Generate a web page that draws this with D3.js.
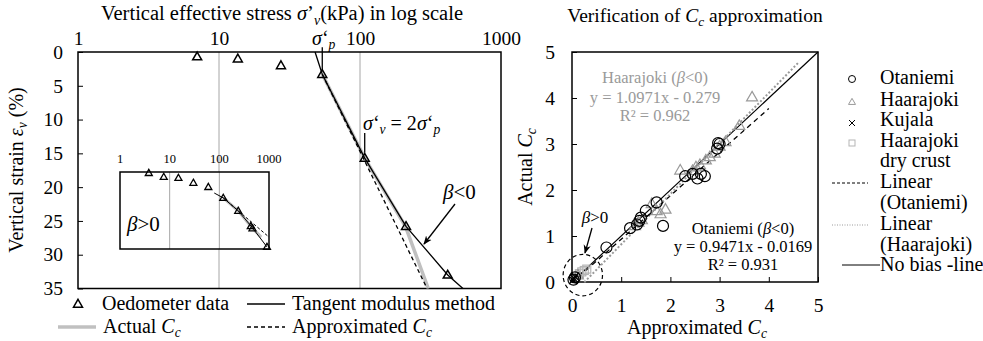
<!DOCTYPE html>
<html><head><meta charset="utf-8">
<script src="https://cdn.jsdelivr.net/npm/d3@7"></script>
<style>
html,body{margin:0;padding:0;background:#fff;}
svg text{font-family:"Liberation Serif","Times New Roman",serif;}
</style></head>
<body><svg id="c" width="983" height="341"></svg>
<script>
// ---------- data: left chart (oedometer curve) ----------
const stressTicks = [1, 10, 100, 1000];
const strainTicks = [0, 5, 10, 15, 20, 25, 30, 35];
const oedStress = [7.0, 13.6, 27.5, 54, 108, 212, 419];
const oedStrain = [0.7, 1.0, 2.0, 3.3, 15.7, 25.8, 33.0];
const tangentStress = [48, 54, 108, 212, 419, 537];
const tangentStrain = [0, 3.3, 15.7, 25.8, 33.0, 35];
const actualStress = [54, 108, 210, 305];
const actualStrain = [3.3, 15.7, 25.8, 35];
const approxStress = [54, 299];
const approxStrain = [3.3, 35];
const sigmaP = 54;
// inset (beta > 0)
const insetStress = [3.8, 7.6, 15, 30, 60, 120, 240, 430, 465, 910];
const insetStrain = [0.3, 1.4, 1.7, 3.1, 4.3, 7.4, 11.1, 15.5, 16.1, 21.4];
const insetTanStress = [79, 120, 240, 450, 910];
const insetTanStrain = [6.0, 7.4, 11.1, 15.7, 21.4];
const insetActStress = [120, 240, 460, 700];
const insetActStrain = [7.4, 11.1, 16.0, 18.6];
const insetAppStress = [120, 1000];
const insetAppStrain = [7.4, 18.6];

// ---------- data: right chart (verification) ----------
const ccTicks = [0, 1, 2, 3, 4, 5];
const otaX = [0.03, 0.06, 0.7, 1.18, 1.32, 1.37, 1.4, 1.5, 1.72, 1.85, 2.3, 2.45, 2.55, 2.62, 2.7, 2.95, 3.0, 2.97];
const otaY = [0.05, 0.1, 0.75, 1.17, 1.25, 1.33, 1.4, 1.55, 1.73, 1.22, 2.3, 2.35, 2.25, 2.35, 2.3, 2.9, 3.0, 3.02];
const haaX = [3.66, 3.4, 3.12, 3.0, 2.9, 2.8, 2.72, 2.6, 2.52, 2.45, 2.2, 1.9, 1.8, 1.72, 1.62, 1.42, 1.35, 1.28, 0.12];
const haaY = [4.02, 3.4, 3.05, 2.95, 2.8, 2.72, 2.65, 2.55, 2.5, 2.42, 2.43, 1.58, 1.48, 1.55, 1.7, 1.35, 1.3, 1.22, 0.15];
const kujX = [0.02, 0.04, 0.06];
const kujY = [0.04, 0.08, 0.12];
const dryX = [0.15, 0.2, 0.25, 0.3];
const dryY = [0.18, 0.22, 0.25, 0.28];
const otaFit = {a: 0.9471, b: -0.0169, x0: 0, x1: 4.0};
const haaFit = {a: 1.0971, b: -0.279, x0: 0.25, x1: 4.6};

const svg = d3.select("#c");
const GRAY = "#a6a6a6";

function rich(sel, parts, size) {
  parts.forEach(p => {
    const ts = sel.append("tspan").text(p.t);
    if (p.i) ts.attr("font-style", "italic");
    if (p.sub) ts.attr("baseline-shift", -size * 0.22).attr("font-size", size * 0.68);
  });
  return sel;
}
function triPath(cx, cy, s) {
  const h = s * 0.87;
  return `M${cx},${cy - h * 0.6}L${cx + s / 2},${cy + h * 0.4}L${cx - s / 2},${cy + h * 0.4}Z`;
}

// ================= LEFT CHART =================
const xL = d3.scaleLog().domain([1, 1000]).range([78, 501]);
const yL = d3.scaleLinear().domain([0, 35]).range([52, 288.5]);
const gL = svg.append("g");

gL.selectAll(".grid").data([10, 100]).join("line")
  .attr("x1", d => xL(d)).attr("x2", d => xL(d)).attr("y1", yL(0)).attr("y2", yL(35))
  .attr("stroke", GRAY).attr("stroke-width", 1);

const axL = gL.append("g").attr("transform", `translate(${xL(1)},0)`)
  .call(d3.axisLeft(yL).tickValues(strainTicks).tickSize(-5).tickSizeOuter(0).tickPadding(15));
const axT = gL.append("g").attr("transform", `translate(0,${yL(0)})`)
  .call(d3.axisTop(xL).tickValues(stressTicks).tickFormat(d3.format("d")).tickSize(0).tickPadding(7));
[axL, axT].forEach(a => {
  a.selectAll("text").attr("font-size", 19.5).attr("fill", "#000");
  a.selectAll("line").attr("stroke", "#000");
  a.select(".domain").remove();
});
gL.append("rect").attr("x", xL(1)).attr("y", yL(0)).attr("width", xL(1000) - xL(1)).attr("height", yL(35) - yL(0))
  .attr("fill", "none").attr("stroke", "#000").attr("stroke-width", 1.5);

rich(gL.append("text").attr("x", 282).attr("y", 20).attr("text-anchor", "middle").attr("font-size", 20.5),
  [{t: "Vertical effective stress "}, {t: "σ", i: 1}, {t: "’"}, {t: "v", i: 1, sub: 1}, {t: "(kPa) in log scale"}], 20.5);
rich(gL.append("text").attr("transform", "translate(23,170) rotate(-90)").attr("text-anchor", "middle").attr("font-size", 20),
  [{t: "Vertical strain "}, {t: "ε", i: 1}, {t: "v", i: 1, sub: 1}, {t: " (%)"}], 20);

const lineL = (xs, ys) => d3.line().x((d, i) => xL(xs[i])).y((d, i) => yL(ys[i]))(xs);
gL.append("path").attr("d", lineL(actualStress, actualStrain)).attr("fill", "none")
  .attr("stroke", "#c0c0c0").attr("stroke-width", 3.5);
gL.append("path").attr("d", lineL(approxStress, approxStrain)).attr("fill", "none")
  .attr("stroke", "#000").attr("stroke-width", 1.3).attr("stroke-dasharray", "4,3");
gL.append("path").attr("d", lineL(tangentStress, tangentStrain)).attr("fill", "none")
  .attr("stroke", "#000").attr("stroke-width", 1.3);
gL.selectAll(".oed").data(oedStress).join("path")
  .attr("d", (d, i) => triPath(xL(d), yL(oedStrain[i]), 9))
  .attr("fill", "none").attr("stroke", "#000").attr("stroke-width", 1.5);

gL.append("line").attr("x1", xL(sigmaP)).attr("x2", xL(sigmaP)).attr("y1", yL(-0.7)).attr("y2", yL(2.9))
  .attr("stroke", "#000").attr("stroke-width", 1.3);
rich(gL.append("text").attr("x", 312).attr("y", 45).attr("font-size", 20),
  [{t: "σ", i: 1}, {t: "‘"}, {t: "p", i: 1, sub: 1}], 20);
gL.append("line").attr("x1", xL(2 * sigmaP)).attr("x2", xL(2 * sigmaP)).attr("y1", yL(12.0)).attr("y2", yL(14.9))
  .attr("stroke", "#000").attr("stroke-width", 1.3);
rich(gL.append("text").attr("x", 363).attr("y", 130).attr("font-size", 20),
  [{t: "σ", i: 1}, {t: "‘"}, {t: "v", i: 1, sub: 1}, {t: " = 2"}, {t: "σ", i: 1}, {t: "‘"}, {t: "p", i: 1, sub: 1}], 20);

svg.append("defs").append("marker").attr("id", "ah").attr("viewBox", "0 0 10 10").attr("refX", 9).attr("refY", 5)
  .attr("markerWidth", 9).attr("markerHeight", 9).attr("orient", "auto").attr("markerUnits", "userSpaceOnUse")
  .append("path").attr("d", "M0,1L10,5L0,9L3,5Z").attr("fill", "#000");
gL.append("line").attr("x1", 455).attr("y1", 204).attr("x2", 424).attr("y2", 244)
  .attr("stroke", "#000").attr("stroke-width", 1.3).attr("marker-end", "url(#ah)");
rich(gL.append("text").attr("x", 443).attr("y", 199).attr("font-size", 21),
  [{t: "β", i: 1}, {t: "<0"}], 21);

// inset
const xI = d3.scaleLog().domain([1, 1000]).range([120, 269]);
const yI = d3.scaleLinear().domain([0, 22]).range([172, 249]);
const gI = gL.append("g");
gI.append("rect").attr("x", xI(1)).attr("y", yI(0)).attr("width", xI(1000) - xI(1)).attr("height", yI(22) - yI(0))
  .attr("fill", "#fff").attr("stroke", "none");
gI.selectAll(".ig").data([10, 100]).join("line")
  .attr("x1", d => xI(d)).attr("x2", d => xI(d)).attr("y1", yI(0)).attr("y2", yI(22))
  .attr("stroke", GRAY);
gI.append("rect").attr("x", xI(1)).attr("y", yI(0)).attr("width", xI(1000) - xI(1)).attr("height", yI(22) - yI(0))
  .attr("fill", "none").attr("stroke", "#000").attr("stroke-width", 1.5);
gI.selectAll(".il").data(stressTicks).join("text")
  .attr("x", d => xI(d)).attr("y", 163).attr("text-anchor", "middle").attr("font-size", 12.5).attr("fill", "#000")
  .text(d3.format("d"));
const lineI = (xs, ys) => d3.line().x((d, i) => xI(xs[i])).y((d, i) => yI(ys[i]))(xs);
gI.append("path").attr("d", lineI(insetActStress, insetActStrain)).attr("fill", "none").attr("stroke", "#c0c0c0").attr("stroke-width", 3);
gI.append("path").attr("d", lineI(insetAppStress, insetAppStrain)).attr("fill", "none").attr("stroke", "#000").attr("stroke-width", 1).attr("stroke-dasharray", "3,2");
gI.append("path").attr("d", lineI(insetTanStress, insetTanStrain)).attr("fill", "none").attr("stroke", "#000").attr("stroke-width", 1);
gI.selectAll(".it").data(insetStress).join("path")
  .attr("d", (d, i) => triPath(xI(d), yI(insetStrain[i]), 7))
  .attr("fill", "none").attr("stroke", "#000").attr("stroke-width", 1.3);
rich(gI.append("text").attr("x", 127).attr("y", 231).attr("font-size", 21), [{t: "β", i: 1}, {t: ">0"}], 21);

// left legend
const lg = gL.append("g").attr("font-size", 20);
lg.append("path").attr("d", triPath(78, 304, 9)).attr("fill", "none").attr("stroke", "#000").attr("stroke-width", 1.5);
lg.append("text").attr("x", 102).attr("y", 310).text("Oedometer data");
lg.append("line").attr("x1", 247).attr("x2", 285).attr("y1", 304).attr("y2", 304).attr("stroke", "#000").attr("stroke-width", 1.3);
lg.append("text").attr("x", 292).attr("y", 310).text("Tangent modulus  method");
lg.append("line").attr("x1", 58).attr("x2", 96).attr("y1", 327).attr("y2", 327).attr("stroke", "#c0c0c0").attr("stroke-width", 3.5);
rich(lg.append("text").attr("x", 103).attr("y", 333), [{t: "Actual "}, {t: "C", i: 1}, {t: "c", i: 1, sub: 1}], 20);
lg.append("line").attr("x1", 247).attr("x2", 285).attr("y1", 327).attr("y2", 327).attr("stroke", "#000").attr("stroke-width", 1.3).attr("stroke-dasharray", "4,3");
rich(lg.append("text").attr("x", 292).attr("y", 333), [{t: "Approximated "}, {t: "C", i: 1}, {t: "c", i: 1, sub: 1}], 20);

// ================= RIGHT CHART =================
const xR = d3.scaleLinear().domain([0, 5]).range([572, 818]);
const yR = d3.scaleLinear().domain([0, 5]).range([282, 52]);
const gR = svg.append("g");
const axB = gR.append("g").attr("transform", `translate(0,${yR(0)})`)
  .call(d3.axisBottom(xR).tickValues(ccTicks).tickFormat(d3.format("d")).tickSize(-5).tickSizeOuter(0).tickPadding(16));
const axR = gR.append("g").attr("transform", `translate(${xR(0)},0)`)
  .call(d3.axisLeft(yR).tickValues(ccTicks).tickFormat(d3.format("d")).tickSize(-5).tickSizeOuter(0).tickPadding(17));
[axB, axR].forEach(a => {
  a.selectAll("text").attr("font-size", 19.5).attr("fill", "#000");
  a.selectAll("line").attr("stroke", "#000");
  a.select(".domain").remove();
});
gR.append("rect").attr("x", xR(0)).attr("y", yR(5)).attr("width", xR(5) - xR(0)).attr("height", yR(0) - yR(5))
  .attr("fill", "none").attr("stroke", "#000").attr("stroke-width", 1.5);

rich(gR.append("text").attr("x", 695).attr("y", 22).attr("text-anchor", "middle").attr("font-size", 19.5),
  [{t: "Verification of "}, {t: "C", i: 1}, {t: "c", i: 1, sub: 1}, {t: " approximation"}], 19.5);
rich(gR.append("text").attr("x", 697).attr("y", 334).attr("text-anchor", "middle").attr("font-size", 20),
  [{t: "Approximated "}, {t: "C", i: 1}, {t: "c", i: 1, sub: 1}], 20);
rich(gR.append("text").attr("transform", "translate(532,167) rotate(-90)").attr("text-anchor", "middle").attr("font-size", 20),
  [{t: "Actual "}, {t: "C", i: 1}, {t: "c", i: 1, sub: 1}], 20);

gR.append("line").attr("x1", xR(0)).attr("y1", yR(0)).attr("x2", xR(5)).attr("y2", yR(5)).attr("stroke", "#000").attr("stroke-width", 1.2);
gR.append("line").attr("x1", xR(otaFit.x0)).attr("y1", yR(otaFit.a * otaFit.x0 + otaFit.b))
  .attr("x2", xR(otaFit.x1)).attr("y2", yR(otaFit.a * otaFit.x1 + otaFit.b))
  .attr("stroke", "#000").attr("stroke-width", 1.3).attr("stroke-dasharray", "5,4");
gR.append("line").attr("x1", xR(haaFit.x0)).attr("y1", yR(haaFit.a * haaFit.x0 + haaFit.b))
  .attr("x2", xR(haaFit.x1)).attr("y2", yR(haaFit.a * haaFit.x1 + haaFit.b))
  .attr("stroke", "#9a9a9a").attr("stroke-width", 2).attr("stroke-dasharray", "2,2");

gR.selectAll(".dry").data(dryX).join("rect")
  .attr("x", (d) => xR(d) - 4).attr("y", (d, i) => yR(dryY[i]) - 4).attr("width", 8).attr("height", 8)
  .attr("fill", "none").attr("stroke", "#b5b5b5").attr("stroke-width", 1.2);
gR.selectAll(".haa").data(haaX).join("path")
  .attr("d", (d, i) => triPath(xR(d), yR(haaY[i]), 11))
  .attr("fill", "none").attr("stroke", "#9a9a9a").attr("stroke-width", 1.2);
gR.selectAll(".ota").data(otaX).join("circle")
  .attr("cx", d => xR(d)).attr("cy", (d, i) => yR(otaY[i])).attr("r", 5.5)
  .attr("fill", "none").attr("stroke", "#000").attr("stroke-width", 1.2);
gR.selectAll(".kuj").data(kujX).join("path")
  .attr("d", (d, i) => { const x = xR(d), y = yR(kujY[i]), s = 4; return `M${x - s},${y - s}L${x + s},${y + s}M${x - s},${y + s}L${x + s},${y - s}`; })
  .attr("stroke", "#000").attr("stroke-width", 1.2);

gR.append("ellipse").attr("cx", xR(0.22)).attr("cy", yR(0.15)).attr("rx", xR(0.4) - xR(0)).attr("ry", yR(0) - yR(0.45))
  .attr("fill", "none").attr("stroke", "#000").attr("stroke-width", 1.2).attr("stroke-dasharray", "4,3");
gR.append("line").attr("x1", 592).attr("y1", 228).attr("x2", 585).attr("y2", 253)
  .attr("stroke", "#000").attr("stroke-width", 1.3).attr("marker-end", "url(#ah)");
rich(gR.append("text").attr("x", 595).attr("y", 223).attr("text-anchor", "middle").attr("font-size", 17), [{t: "β", i: 1}, {t: ">0"}], 17);

const ha = gR.append("g").attr("fill", "#9a9a9a").attr("font-size", 16.5).attr("text-anchor", "middle");
rich(ha.append("text").attr("x", 655).attr("y", 83), [{t: "Haarajoki ("}, {t: "β", i: 1}, {t: "<0)"}], 16.5);
ha.append("text").attr("x", 655).attr("y", 103).text("y = 1.0971x - 0.279");
ha.append("text").attr("x", 655).attr("y", 121).text("R² = 0.962");
const oa = gR.append("g").attr("fill", "#000").attr("font-size", 16.5).attr("text-anchor", "middle");
rich(oa.append("text").attr("x", 743).attr("y", 234), [{t: "Otaniemi ("}, {t: "β", i: 1}, {t: "<0)"}], 16.5);
oa.append("text").attr("x", 743).attr("y", 252).text("y = 0.9471x - 0.0169");
oa.append("text").attr("x", 743).attr("y", 270).text("R² = 0.931");

const rl = gR.append("g").attr("font-size", 20);
const lx = 852, tx = 880;
rl.append("circle").attr("cx", lx).attr("cy", 79).attr("r", 3.5).attr("fill", "none").attr("stroke", "#000");
rl.append("path").attr("d", triPath(lx, 102, 7)).attr("fill", "none").attr("stroke", "#9a9a9a");
rl.append("path").attr("d", `M${lx - 3},${120}L${lx + 3},${126}M${lx - 3},${126}L${lx + 3},${120}`).attr("stroke", "#000");
rl.append("rect").attr("x", lx - 3).attr("y", 140).attr("width", 6).attr("height", 6).attr("fill", "none").attr("stroke", "#b5b5b5");
rl.append("line").attr("x1", 832).attr("x2", 868).attr("y1", 183).attr("y2", 183).attr("stroke", "#000").attr("stroke-dasharray", "3,2");
rl.append("line").attr("x1", 832).attr("x2", 868).attr("y1", 225).attr("y2", 225).attr("stroke", "#9a9a9a").attr("stroke-dasharray", "1,1.5");
rl.append("line").attr("x1", 842).attr("x2", 880).attr("y1", 265).attr("y2", 265).attr("stroke", "#000");
const legTexts = ["Otaniemi", "Haarajoki", "Kujala", "Haarajoki", "dry crust", "Linear", "(Otaniemi)", "Linear", "(Haarajoki)", "No bias -line"];
const legY = [84, 106, 126, 147, 167, 188, 209, 230, 251, 271];
rl.selectAll(".lt").data(legTexts).join("text").attr("x", tx).attr("y", (d, i) => legY[i]).text(d => d);
</script></body></html>
